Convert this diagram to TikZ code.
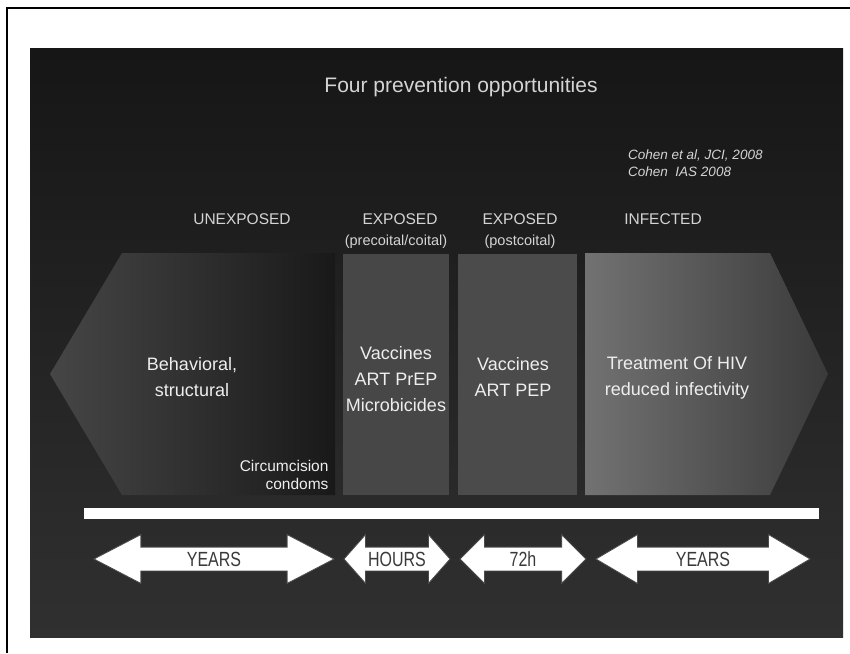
\documentclass[tikz,border=0pt]{standalone}
\usepackage{fontspec}
\setmainfont{Liberation Sans}
\newfontfamily\narrowfont[FakeStretch=0.78]{Liberation Sans}
\usetikzlibrary{shapes.arrows}

\definecolor{slidetop}{HTML}{161616}
\definecolor{slidebot}{HTML}{303030}
\definecolor{labelgrey}{HTML}{D4D4D4}
\definecolor{boxtext}{HTML}{EEEEEE}
\definecolor{arrowtext}{HTML}{3A3A3A}
\definecolor{leftlight}{HTML}{464646}
\definecolor{leftdark}{HTML}{191919}
\definecolor{precol}{HTML}{474747}
\definecolor{postcol}{HTML}{4B4B4B}
\definecolor{inflight}{HTML}{727272}
\definecolor{infdark}{HTML}{3A3A3A}

\tikzset{
  header/.style={text=labelgrey, font=\fontsize{15.5}{18}\selectfont},
  subheader/.style={text=labelgrey, font=\fontsize{14.5}{17}\selectfont},
  boxlabel/.style={text=boxtext, align=center, font=\fontsize{18}{26}\selectfont},
  timearrow/.style={double arrow, fill=white, draw=gray!60!black, line width=0.8pt,
    text=arrowtext, double arrow head extend=12.5pt, inner ysep=4pt, inner xsep=0pt,
    text height=15pt, text depth=0pt, font=\narrowfont\fontsize{20.5}{20}\selectfont},
}

\begin{document}
\begin{tikzpicture}[x=1pt, y=-1pt]
    \useasboundingbox (0, 0) rectangle (850, 653);
    \fill[white] (0, 0) rectangle (850, 653);
    \draw[black, line width=1.5pt] (7, 653) -- (7, 8) -- (850, 8);

    \shade[top color=slidetop, bottom color=slidebot] (30, 48) rectangle (843, 637);
    \node (title)[text=labelgrey, font=\fontsize{21}{24}\selectfont] at (461, 87) {Four prevention opportunities};
    \node (cite)[text=labelgrey, align=left, anchor=north west, inner sep=0pt,
        font=\itshape\fontsize{13.5}{17}\selectfont] at (628, 150) {Cohen et al, JCI, 2008\\Cohen\ \ IAS 2008};

    \node (H1)[header] at (242, 219) {UNEXPOSED};
    \node (H2)[header] at (400, 219) {EXPOSED};
    \node (H2s)[subheader] at (396, 242) {(precoital/coital)};
    \node (H3)[header] at (520, 219) {EXPOSED};
    \node (H3s)[subheader] at (520, 242) {(postcoital)};
    \node (H4)[header] at (663, 219) {INFECTED};

    \shade[left color=leftlight, right color=leftdark] (50, 374) -- (122, 253) -- (335, 253) -- (335, 495) -- (122, 495) -- cycle;
    \fill[precol] (343, 254) rectangle (449, 495);
    \fill[postcol] (458, 254) rectangle (577, 495);
    \shade[left color=inflight, right color=infdark] (585, 253) -- (770, 253) -- (828, 374) -- (770, 495) -- (585, 495) -- cycle;

    \node (B1)[boxlabel] at (192, 377) {Behavioral,\\structural};
    \node (B1s)[text=boxtext, align=right, anchor=east, font=\fontsize{15.5}{18}\selectfont] at (332, 475) {Circumcision\\condoms};
    \node (B2)[boxlabel] at (396, 379) {Vaccines\\ART PrEP\\Microbicides};
    \node (B3)[boxlabel] at (513, 377) {Vaccines\\ART PEP};
    \node (B4)[boxlabel] at (677, 378) {Treatment Of HIV\\reduced infectivity};

    \fill[white] (84, 508) rectangle (819, 519);

    \node (T1)[timearrow, minimum height=240pt, double arrow tip angle=55] at (214, 559) {YEARS};
    \node (T2)[timearrow, minimum height=106pt, double arrow tip angle=97] at (397, 559) {HOURS};
    \node (T3)[timearrow, minimum height=126pt, double arrow tip angle=90] at (523, 559) {72h};
    \node (T4)[timearrow, minimum height=214pt, double arrow tip angle=61] at (703, 559) {YEARS};
\end{tikzpicture}
\end{document}
